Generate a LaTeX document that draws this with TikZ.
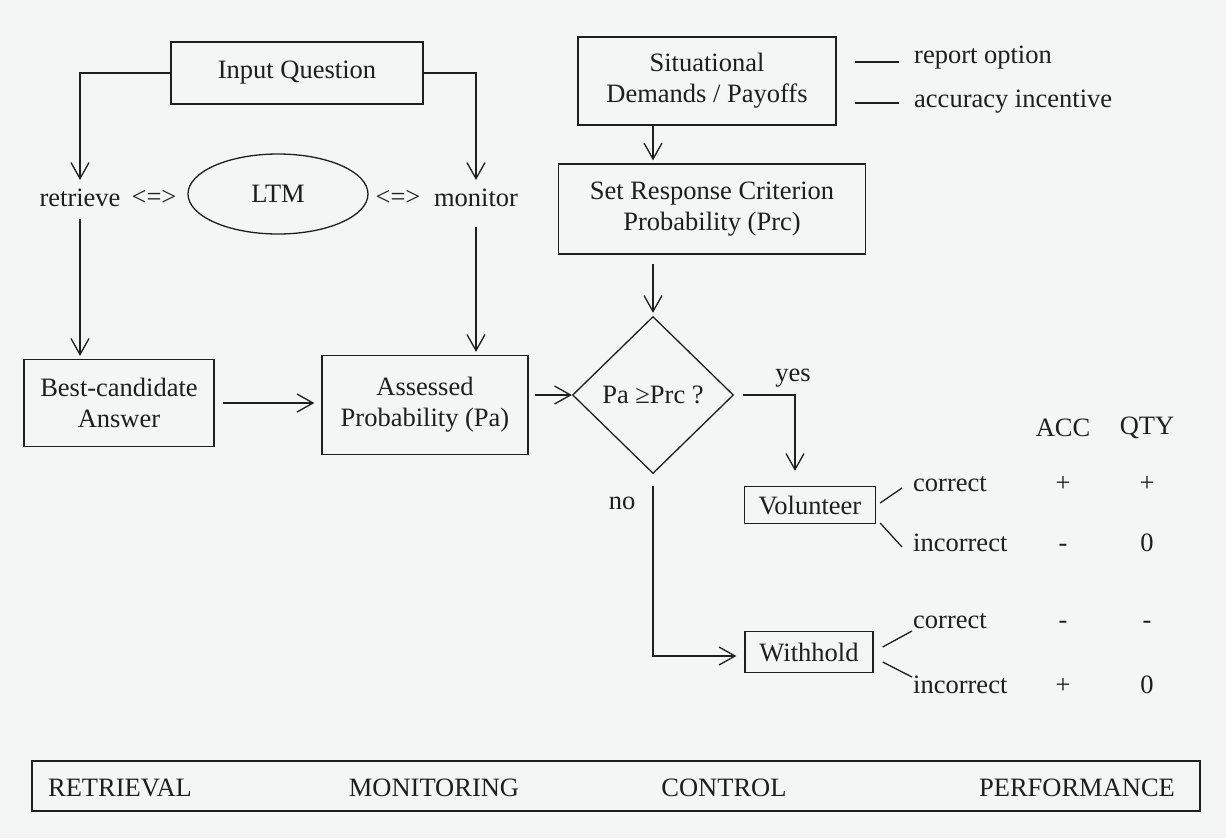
\documentclass[tikz,border=0pt]{standalone}
\usepackage{fontspec}
\setmainfont{Liberation Serif}
\usetikzlibrary{shapes.geometric, arrows.meta}
\definecolor{paperColor}{RGB}{244,245,245}
\definecolor{inkColor}{RGB}{30,30,30}
\tikzstyle{scanPlane} = [x = 1pt, y = -1pt, every node/.style={font=\fontsize{26.5}{31}\selectfont, text=inkColor}]
\tikzstyle{boxStyle} = [draw=inkColor, line width=1.3pt, align=center, inner sep=0pt]
\tikzstyle{plainText} = [inner sep=2pt]
\tikzstyle{plainLine} = [draw=inkColor, line width=1.3pt]
\tikzstyle{flowArrow} = [draw=inkColor, line width=1.3pt, -{Straight Barb[length=16pt, width=18pt]}]
\newcommand{\outcomeRow}[5]{
  \node [plainText, anchor=west] (#1) at (911,#2) {\vphantom{0}#3};
  \node [plainText] (#1Acc) at (1063,#2) {\vphantom{0}#4};
  \node [plainText] (#1Qty) at (1147,#2) {\vphantom{0}#5};
}

\begin{document}
\begin{tikzpicture}[scanPlane]
  \fill [paperColor] (0,0) rectangle (1226,838);
  \useasboundingbox (0,0) rectangle (1226,838);

  \node [boxStyle, minimum width=252, minimum height=62] (question) at (297,73) {Input Question};
  \node [boxStyle, minimum width=258, minimum height=88] (situation) at (707,81) {Situational\\Demands / Payoffs};
  \node [plainText, anchor=west] (reportOpt) at (912,58) {report option};
  \node [plainText, anchor=west] (accIncentive) at (912,102) {accuracy incentive};
  \node [boxStyle, minimum width=307, minimum height=90] (criterion) at (712,209) {Set Response Criterion\\Probability (Prc)};

  \node [plainText] (retrieve) at (80,198) {retrieve};
  \node [plainText] (retLink) at (154,198) {<=>};
  \node [boxStyle, ellipse, minimum width=180, minimum height=80] (ltm) at (278,194) {LTM};
  \node [plainText] (monLink) at (398,198) {<=>};
  \node [plainText] (monitor) at (476,198) {monitor};

  \node [boxStyle, minimum width=190, minimum height=87] (best) at (119,403) {Best-candidate\\Answer};
  \node [boxStyle, minimum width=206, minimum height=99] (assessed) at (425,405) {Assessed\\Probability (Pa)};
  \node [boxStyle, diamond, aspect=1, minimum width=161, minimum height=157] (decision) at (653,395) {Pa ≥Prc ?};
  \node [plainText] (yesLabel) at (793,378) {yes};
  \node [plainText] (noLabel) at (622,503) {no};
  \node [boxStyle, minimum width=131, minimum height=37] (volunteer) at (810,505) {Volunteer};
  \node [boxStyle, minimum width=128, minimum height=41] (withhold) at (809,652) {Withhold};

  \node [plainText] (accHead) at (1063,428) {ACC};
  \node [plainText] (qtyHead) at (1147,428) {QTY};
  \outcomeRow{volCorrect}{483}{correct}{+}{+}
  \outcomeRow{volIncorrect}{543}{incorrect}{-}{0}
  \outcomeRow{witCorrect}{620}{correct}{-}{-}
  \outcomeRow{witIncorrect}{685}{incorrect}{+}{0}

  \node [boxStyle, minimum width=1168, minimum height=50] (phaseBand) at (616,786) {};
  \foreach \phaseName/\phaseX in {RETRIEVAL/120, MONITORING/434, CONTROL/724, PERFORMANCE/1077}
    \node [plainText] (\phaseName) at (\phaseX,788) {\phaseName};

  \draw [flowArrow, shorten >=7pt] (question.west) -| (retrieve.north);
  \draw [flowArrow, shorten <=10pt, shorten >=3pt] (retrieve.south) -- (retrieve.south |- best.north);
  \draw [flowArrow, shorten >=7pt] (question.east) -| (monitor.north);
  \draw [flowArrow, shorten <=18pt, shorten >=3pt] (monitor.south) -- (monitor.south |- assessed.north);
  \draw [flowArrow, shorten <=8pt, shorten >=7pt] (best.east) -- (best.east -| assessed.west);
  \draw [flowArrow, shorten <=6pt] (assessed.east |- decision.west) -- (decision.west);
  \draw [flowArrow, shorten >=3pt] (situation.south -| decision.north) -- (criterion.north -| decision.north);
  \draw [flowArrow, shorten <=9pt, shorten >=3pt] (criterion.south -| decision.north) -- (decision.north);
  \draw [flowArrow, shorten <=9pt, shorten >=15pt] (decision.east) -| ([xshift=-15pt]volunteer.north);
  \draw [flowArrow, shorten <=12pt, shorten >=8pt] (decision.south) |- ([yshift=-4pt]withhold.west);

  \draw [plainLine] ([shift={(-13,4)}]reportOpt.west) -- ++(-44,0);
  \draw [plainLine] ([shift={(-13,1)}]accIncentive.west) -- ++(-44,0);
  \draw [plainLine] ([shift={(4,-2)}]volunteer.east) -- ([shift={(-9,5)}]volCorrect.west);
  \draw [plainLine] ([shift={(4,18)}]volunteer.east) -- ([shift={(-9,4)}]volIncorrect.west);
  \draw [plainLine] ([shift={(9,-5)}]withhold.east) -- ([shift={(1,11)}]witCorrect.west);
  \draw [plainLine] ([shift={(9,10)}]withhold.east) -- ([shift={(1,-8)}]witIncorrect.west);
\end{tikzpicture}
\end{document}
